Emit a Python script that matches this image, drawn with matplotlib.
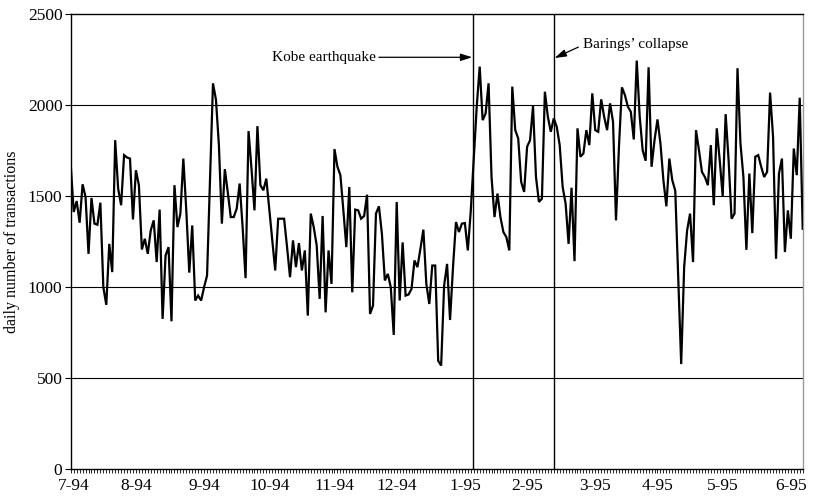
import matplotlib
matplotlib.use("Agg")
import matplotlib.pyplot as plt
import numpy as np

plt.rcParams['font.family'] = ['Liberation Serif', 'DejaVu Serif']

# Daily number of transactions, one value per trading day (Jul 1994 - Jun 1995)
transactions = [
    1673, 1413, 1473, 1354, 1565, 1495, 1183, 1490, 1349, 1343,
    1464, 1000, 903, 1238, 1083, 1807, 1541, 1450, 1725, 1712,
    1706, 1372, 1642, 1560, 1207, 1266, 1183, 1312, 1367, 1138,
    1426, 826, 1174, 1220, 813, 1560, 1330, 1404, 1706, 1420,
    1080,
    1339, 927, 954, 927, 1000, 1064, 1590, 2119, 2030, 1780,
    1349, 1648, 1520, 1385, 1385, 1431, 1569, 1330, 1050, 1857,
    1650, 1422, 1884, 1560, 1532, 1596, 1428, 1260, 1092, 1376,
    1376, 1376, 1220, 1055, 1257, 1110, 1242, 1092, 1202, 844,
    1404,
    1330, 1229, 936, 1391, 862, 1202, 1018, 1758, 1661, 1615,
    1422, 1220, 1550, 972, 1426, 1422, 1376, 1391, 1508, 853,
    899, 1404, 1444, 1294, 1037, 1073, 1000, 738, 1468, 927,
    1246, 954, 960, 991, 1147, 1110, 1211, 1316, 1018, 908,
    1119, 1119, 596, 570,
    1009, 1128, 820, 1110, 1358, 1303, 1349, 1352, 1202, 1420,
    1700, 1990, 2211, 1917, 1954, 2119, 1605, 1385, 1514, 1385,
    1303, 1275, 1202, 2101, 1862, 1817, 1578, 1523, 1771, 1807,
    1994, 1605, 1468, 1486, 2073, 1936, 1853, 1927, 1881,
    1780, 1550, 1459, 1238, 1546, 1143, 1872, 1716, 1734, 1862,
    1780, 2064, 1862, 1853, 2031, 1936, 1862, 2009, 1908, 1367,
    1771, 2097, 2055, 1991, 1963, 1811, 2244, 1936, 1752, 1694,
    2207, 1661, 1807, 1921, 1789, 1587, 1444, 1706, 1587, 1530,
    1050, 578,
    1110, 1312, 1404, 1138, 1862, 1752, 1633, 1605, 1560, 1780,
    1450, 1872, 1697, 1501, 1950, 1697, 1376, 1404, 2202, 1789,
    1605, 1205, 1624, 1297, 1716, 1725, 1661, 1605, 1633, 2068,
    1826, 1156, 1624, 1706, 1193, 1422, 1266, 1761, 1615, 2040,
    1321,
]

# Month labels and the trading-day index each one is attached to
month_labels = ['7-94', '8-94', '9-94', '10-94', '11-94', '12-94',
                '1-95', '2-95', '3-95', '4-95', '5-95', '6-95']
month_index = [1, 22, 45, 67, 89, 110, 133, 154, 177, 198, 220, 243]

# Events marked on the chart (trading-day index)
kobe_day = 135.7
barings_day = 163.2

y_ticks = [0, 500, 1000, 1500, 2000, 2500]

fig = plt.figure(figsize=(8.14, 4.99), dpi=100)
ax = fig.add_axes([0.0869, 0.0593, 0.8992, 0.9128])

days = np.arange(len(transactions))
ax.plot(days, transactions, color='black', lw=1.6, solid_joinstyle='miter', zorder=3)

ax.set_xlim(0, len(transactions) - 1)
ax.set_ylim(0, 2500)

# horizontal gridlines
for yv in y_ticks[1:-1]:
    ax.axhline(yv, color='black', lw=0.8, zorder=1)

# event lines
ax.axvline(kobe_day, color='black', lw=1.0, zorder=2)
ax.axvline(barings_day, color='black', lw=1.0, zorder=2)

# spines
for side in ['left', 'bottom', 'top']:
    ax.spines[side].set_color('black')
    ax.spines[side].set_linewidth(1.0)
ax.spines['right'].set_color('#9a9a9a')
ax.spines['right'].set_linewidth(1.0)

ax.set_yticks(y_ticks)
ax.set_yticklabels([str(v) for v in y_ticks])
ax.tick_params(axis='y', direction='out', length=4, width=0.8, labelsize=12.5, pad=2)

ax.set_xticks(month_index)
ax.set_xticklabels(month_labels)
ax.set_xticks(days, minor=True)
ax.tick_params(axis='x', which='major', direction='out', length=3, width=0.6,
               labelsize=12.5, pad=3)
ax.tick_params(axis='x', which='minor', direction='out', length=3, width=0.6)

ax.set_ylabel('daily number of transactions', fontsize=11.5)
ax.yaxis.set_label_coords(-0.070, 0.5)

arrow = dict(arrowstyle='-|>,head_length=0.7,head_width=0.22', lw=0.9,
             color='black', shrinkA=0, shrinkB=0)
ax.annotate('', xy=(kobe_day - 0.2, 2262), xytext=(104, 2262),
            arrowprops=arrow, zorder=4)
ax.text(103, 2262, 'Kobe earthquake', ha='right', va='center', fontsize=11)

ax.annotate('', xy=(barings_day + 0.1, 2258), xytext=(171.3, 2318),
            arrowprops=arrow, zorder=4)
ax.text(172.8, 2330, "Barings\u2019 collapse", ha='left', va='center', fontsize=11)

fig.savefig('out.png', dpi=100)
